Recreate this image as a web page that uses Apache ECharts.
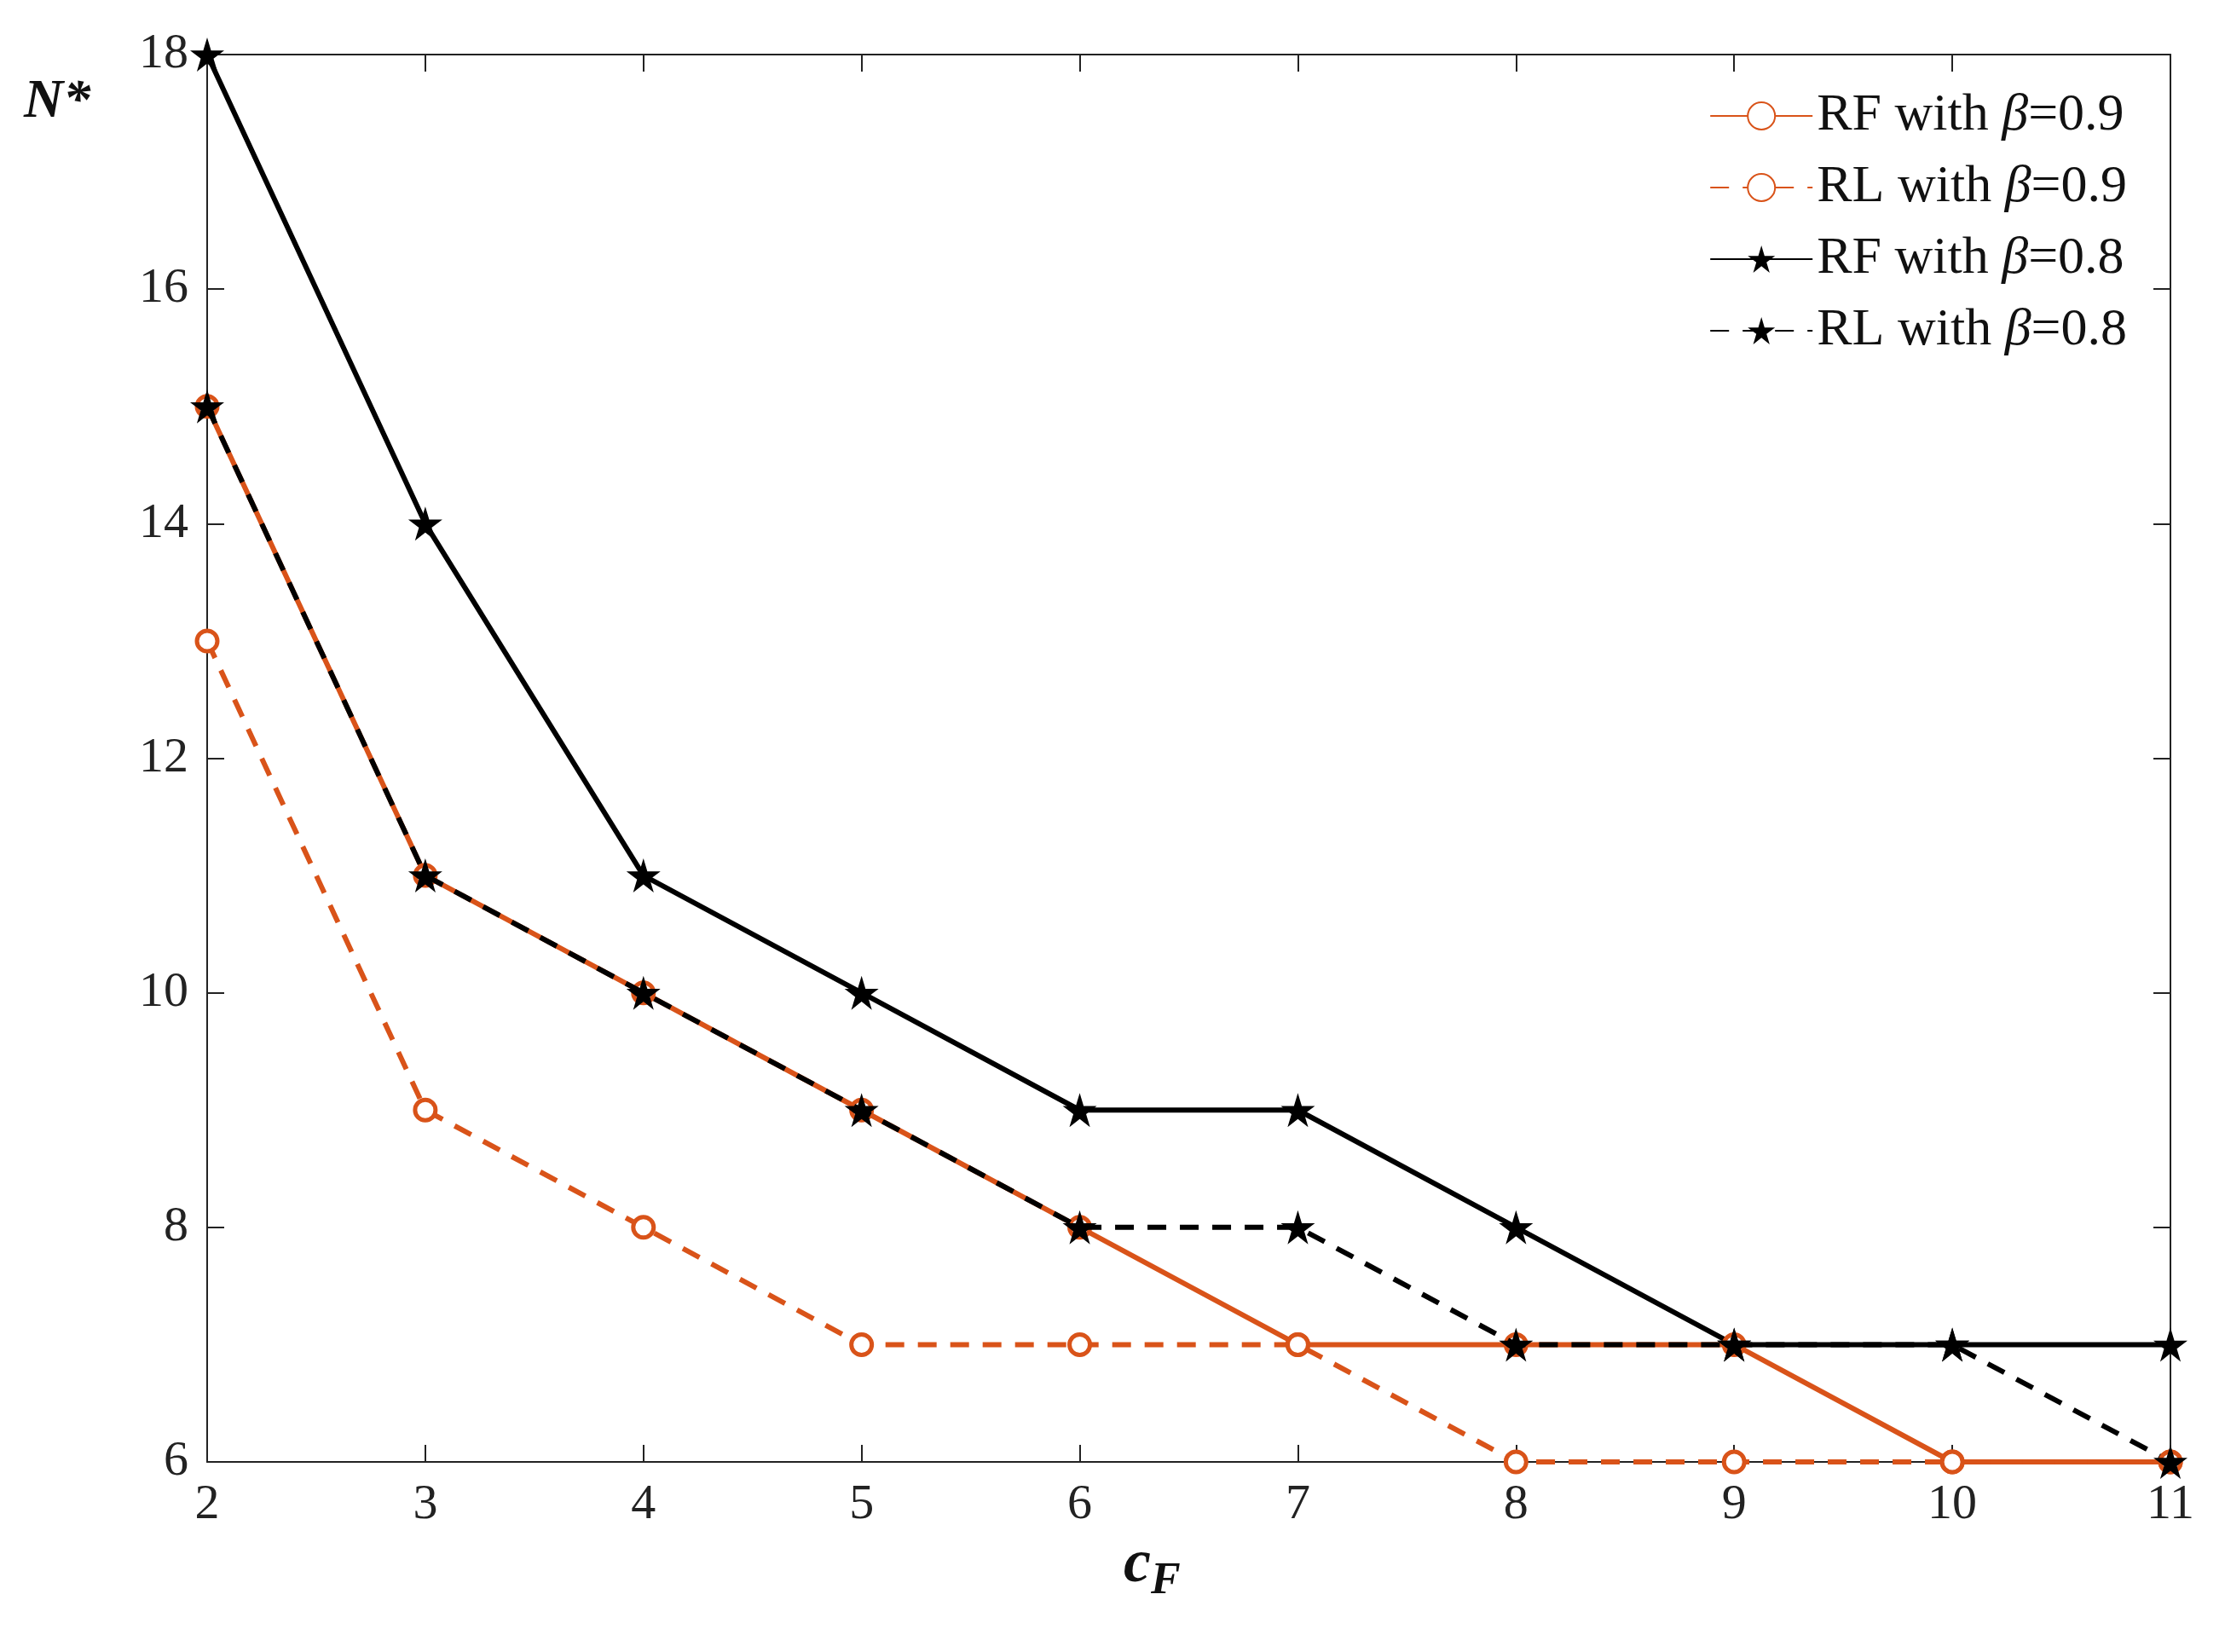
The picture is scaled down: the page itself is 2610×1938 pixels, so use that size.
<!DOCTYPE html>
<html>
<head>
<meta charset="utf-8">
<script src="https://cdn.jsdelivr.net/npm/echarts@6/dist/echarts.min.js"></script>
<style>html,body{margin:0;background:#fff}#main{width:2610px;height:1938px}</style>
</head>
<body>
<div id="main"></div>
<script>
var cF = [2, 3, 4, 5, 6, 7, 8, 9, 10, 11];
var rf09 = [15, 11, 10, 9, 8, 7, 7, 7, 6, 6];
var rl09 = [13, 9, 8, 7, 7, 7, 6, 6, 6, 6];
var rf08 = [18, 14, 11, 10, 9, 9, 8, 7, 7, 7];
var rl08 = [15, 11, 10, 9, 8, 8, 7, 7, 7, 6];
var names = ['RF with β=0.9', 'RL with β=0.9', 'RF with β=0.8', 'RL with β=0.8'];

var orange = '#D95319';
var font = '"Liberation Serif", serif';

function pairs(arr) {
    return cF.map(function (x, i) { return [x, arr[i]]; });
}

//坐标轴公共样式
function axisBase(pos, show) {
    return {
        position: pos,
        axisLine: { show: true, onZero: false, lineStyle: { color: '#222', width: 2 } },
        axisTick: { show: true, inside: true, length: 20, lineStyle: { color: '#222', width: 2 } },
        axisLabel: { show: show, fontFamily: font, fontSize: 58, color: '#222', margin: 22 },
        splitLine: { show: false }
    };
}

function mkSeries(name, data, color, dashed, symbol, size) {
    return {
        name: name,
        type: 'line',
        data: pairs(data),
        symbol: symbol,
        symbolSize: size,
        showAllSymbol: true,
        lineStyle: { color: color, width: 6, type: dashed ? [22, 16] : 'solid' },
        itemStyle: { color: symbol === 'circle' ? '#fff' : color, borderColor: color, borderWidth: symbol === 'circle' ? 5 : 0 },
        z: dashed ? 3 : 2
    };
}

var star = 'path://M50,0 L61,35 L98,35 L68,57 L79,92 L50,70 L21,92 L32,57 L2,35 L39,35 Z';

var myChart = echarts.init(document.getElementById('main'));
var option = {
    backgroundColor: '#fff',
    animation: false,
    grid: { left: 243, right: 64, top: 64, bottom: 223 },
    xAxis: [
        Object.assign(axisBase('bottom', true), { type: 'value', min: 2, max: 11, interval: 1 }),
        Object.assign(axisBase('top', false), { type: 'value', min: 2, max: 11, interval: 1 })
    ],
    yAxis: [
        Object.assign(axisBase('left', true), { type: 'value', min: 6, max: 18, interval: 2 }),
        Object.assign(axisBase('right', false), { type: 'value', min: 6, max: 18, interval: 2 })
    ],
    legend: {
        orient: 'vertical',
        right: 110,
        top: 100,
        itemWidth: 120,
        itemHeight: 40,
        itemGap: 22,
        data: names,
        formatter: function (n) {
            var p = n.split('β');
            return p[0] + '{b|β}' + p[1];
        },
        textStyle: {
            fontFamily: font, fontSize: 62, color: '#111',
            rich: { b: { fontFamily: font, fontSize: 62, fontStyle: 'italic', color: '#111' } }
        }
    },
    graphic: [
        { type: 'text', left: 28, top: 88, style: { text: 'N*', font: 'italic bold 64px "Liberation Serif"', fill: '#111' } },
        { type: 'text', left: 1318, top: 1800, style: {
            text: '{c|c}{f|F}', fill: '#111',
            rich: {
                c: { font: 'italic bold 72px "Liberation Serif"', fill: '#111' },
                f: { font: 'italic bold 52px "Liberation Serif"', fill: '#111', padding: [40, 0, 0, 0] }
            }
        } }
    ],
    series: [
        mkSeries(names[0], rf09, orange, false, 'circle', 24),
        mkSeries(names[1], rl09, orange, true, 'circle', 24),
        mkSeries(names[2], rf08, '#000', false, star, 40),
        mkSeries(names[3], rl08, '#000', true, star, 40)
    ]
};
myChart.setOption(option);
</script>
</body>
</html>
